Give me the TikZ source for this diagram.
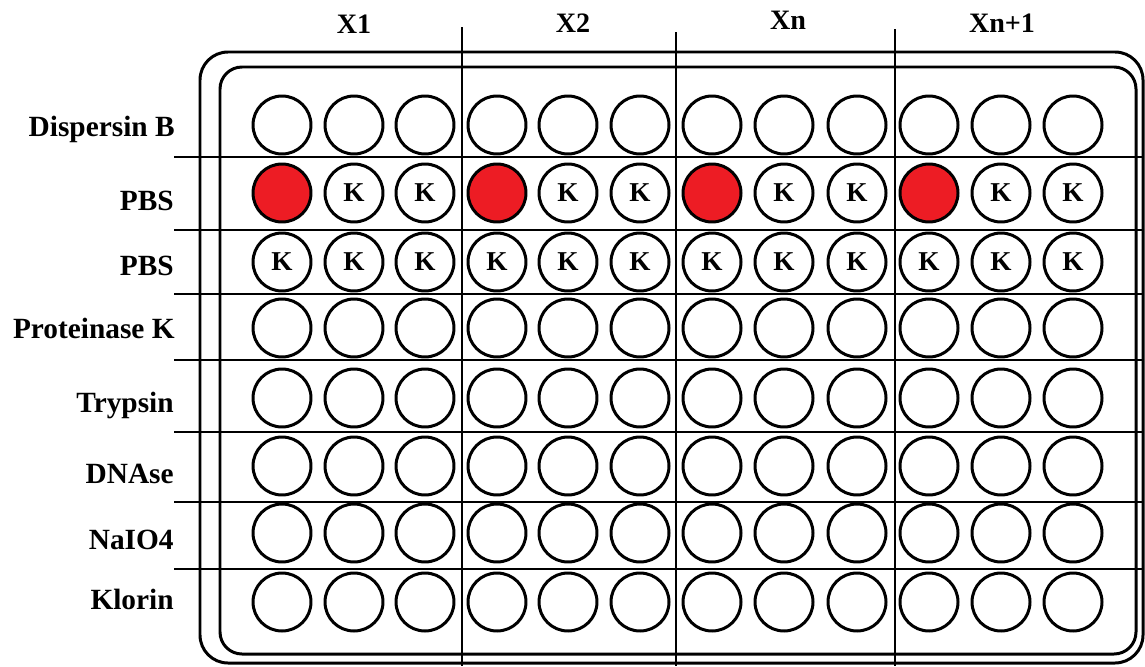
\documentclass[tikz,border=0pt]{standalone}
\usepackage{fontspec}
\setmainfont{Liberation Serif}
\usepackage{tikz}
\usetikzlibrary{positioning}
\definecolor{WellRed}{RGB}{237,28,36}

\begin{document}
\begin{tikzpicture}[x=0.02cm, y=-0.02cm,
            well/.style={circle, draw, line width=1.7pt, minimum size=1.16cm,
                         inner sep=0pt, font=\fontsize{15.5}{17}\selectfont\bfseries},
            ctrl/.style={well, fill=WellRed},
            lab/.style={anchor=base east, inner sep=0pt,
                        font=\fontsize{16.7}{19}\selectfont\bfseries},
            hd/.style={anchor=base, inner sep=0pt,
                       font=\fontsize{16}{19}\selectfont\bfseries},
            plate/.style={draw, line width=1.7pt},
            sep/.style={draw, line width=0.8pt}
          ]
          \useasboundingbox (0,0) rectangle (1145,666);
          % column and row dividers
          \draw[sep] (462,27) -- (462,666);
          \draw[sep] (676,32) -- (676,666);
          \draw[sep] (895,29) -- (895,666);
          \foreach \y in {157,230,294,360,432,502,569}
            \draw[sep] (174,\y) -- (1143,\y);
          % plate
          \draw[plate, rounded corners=0.56cm] (200,52) rectangle (1143,663);
          \draw[plate, rounded corners=0.44cm] (220,67) rectangle (1136,654);
          % headers
          \node[hd] (h1) at (354,33) {X1};
          \node[hd] (h2) at (573,32) {X2};
          \node[hd] (h3) at (788,30) {Xn};
          \node[hd] (h4) at (1002,32) {Xn+1};
          % row labels
          \node[lab] (l1) at (175,136) {Dispersin B};
          \node[lab] (l2) at (174,210) {PBS};
          \node[lab] (l3) at (174,275) {PBS};
          \node[lab] (l4) at (175,338) {Proteinase K};
          \node[lab] (l5) at (174,412) {Trypsin};
          \node[lab] (l6) at (174,483) {DNAse};
          \node[lab] (l7) at (174,549) {NaIO4};
          \node[lab] (l8) at (174,609) {Klorin};
          % wells
          \foreach \x [count=\c] in {282,354,425,497,568,640,712,784,857,929,1001,1073} {
            \pgfmathtruncatemacro\m{mod(\c-1,3)}
            \node[well] (w-1-\c) at (\x,125) {};
            \ifnum\m=0
              \node[ctrl] (w-2-\c) at (\x,193) {};
            \else
              \node[well] (w-2-\c) at (\x,193) {K};
            \fi
            \node[well] (w-3-\c) at (\x,262) {K};
            \foreach \y [count=\r from 4] in {328,398,466,533,602}
              \node[well] (w-\r-\c) at (\x,\y) {};
          }
        \end{tikzpicture}
\end{document}
